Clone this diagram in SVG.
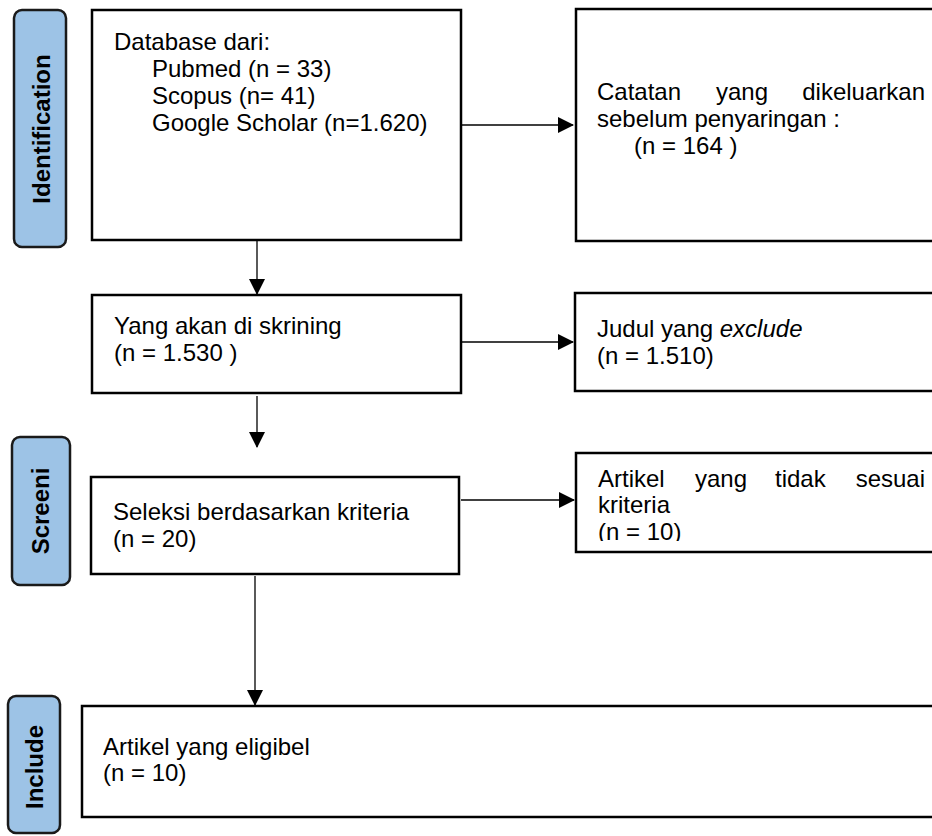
<svg xmlns="http://www.w3.org/2000/svg" width="932" height="836" viewBox="0 0 932 836">
  <defs>
    <style>
      .box { fill: #ffffff; stroke: #000000; stroke-width: 2.5; }
      .pill { fill: #9dc3e6; stroke: #1a1a1a; stroke-width: 2.5; }
      .t { font-family: "Liberation Sans", Arial, sans-serif; font-size: 24px; fill: #000000; }
      .pt { font-family: "Liberation Sans", Arial, sans-serif; font-size: 24px; font-weight: bold; fill: #000000; text-anchor: middle; }
      .conn { stroke: #000000; stroke-width: 1.3; fill: none; }
    </style>
    <marker id="arr" markerWidth="16" markerHeight="16" viewBox="0 0 16 16" refX="15" refY="8" orient="auto" markerUnits="userSpaceOnUse">
      <path d="M0,0 L16,8 L0,16 Z" fill="#000000"/>
    </marker>
    <clipPath id="clip6">
      <rect x="576" y="453" width="356" height="88"/>
    </clipPath>
  </defs>

  <rect width="932" height="836" fill="#ffffff"/>

  <g id="label-identification">
    <rect class="pill" x="14" y="10" width="52" height="237" rx="8" ry="8"/>
    <text class="pt" transform="translate(50,129) rotate(-90)">Identification</text>
  </g>
  <g id="label-screeni">
    <rect class="pill" x="12" y="437" width="58" height="148" rx="8" ry="8"/>
    <text class="pt" transform="translate(49,511) rotate(-90)">Screeni</text>
  </g>
  <g id="label-include">
    <rect class="pill" x="8" y="696" width="52" height="137" rx="8" ry="8"/>
    <text class="pt" transform="translate(43,767) rotate(-90)">Include</text>
  </g>

  <g id="node-database">
    <rect class="box" x="92" y="10" width="369" height="230"/>
    <text class="t" x="114" y="50">Database dari:</text>
    <text class="t" x="152" y="77">Pubmed (n = 33)</text>
    <text class="t" x="152" y="104">Scopus  (n= 41)</text>
    <text class="t" x="152" y="131">Google Scholar (n=1.620)</text>
  </g>

  <g id="node-catatan">
    <rect class="box" x="576" y="9" width="370" height="232"/>
    <text class="t" x="597" y="100">Catatan</text>
    <text class="t" x="716" y="100">yang</text>
    <text class="t" x="925" y="100" text-anchor="end">dikeluarkan</text>
    <text class="t" x="597" y="127">sebelum penyaringan :</text>
    <text class="t" x="634" y="154">(n = 164 )</text>
  </g>

  <g id="node-skrining">
    <rect class="box" x="92" y="295" width="369" height="98"/>
    <text class="t" x="114" y="334">Yang akan di skrining</text>
    <text class="t" x="114" y="361">(n = 1.530 )</text>
  </g>

  <g id="node-judul">
    <rect class="box" x="575" y="293" width="370" height="98"/>
    <text class="t" x="597" y="337">Judul yang <tspan font-style="italic">exclude</tspan></text>
    <text class="t" x="597" y="364">(n = 1.510)</text>
  </g>

  <g id="node-seleksi">
    <rect class="box" x="91" y="477" width="368" height="97"/>
    <text class="t" x="113" y="520">Seleksi berdasarkan kriteria</text>
    <text class="t" x="113" y="547">(n = 20)</text>
  </g>

  <g id="node-tidak-sesuai">
    <rect class="box" x="576" y="453" width="370" height="99"/>
    <g clip-path="url(#clip6)">
      <text class="t" x="598" y="487">Artikel</text>
      <text class="t" x="695" y="487">yang</text>
      <text class="t" x="775" y="487">tidak</text>
      <text class="t" x="925" y="487" text-anchor="end">sesuai</text>
      <text class="t" x="598" y="513">kriteria</text>
      <text class="t" x="598" y="540">(n =  10)</text>
    </g>
  </g>

  <g id="node-eligibel">
    <rect class="box" x="82" y="706" width="870" height="111"/>
    <text class="t" x="103" y="755">Artikel yang eligibel</text>
    <text class="t" x="103" y="781">(n = 10)</text>
  </g>

  <g id="connectors">
    <line class="conn" x1="461" y1="125" x2="573" y2="125" marker-end="url(#arr)"/>
    <line class="conn" x1="257" y1="241" x2="257" y2="294" marker-end="url(#arr)"/>
    <line class="conn" x1="461" y1="342" x2="573" y2="342" marker-end="url(#arr)"/>
    <line class="conn" x1="257" y1="396" x2="257" y2="447" marker-end="url(#arr)"/>
    <line class="conn" x1="461" y1="500" x2="574" y2="500" marker-end="url(#arr)"/>
    <line class="conn" x1="255" y1="576" x2="255" y2="705" marker-end="url(#arr)"/>
  </g>
</svg>
